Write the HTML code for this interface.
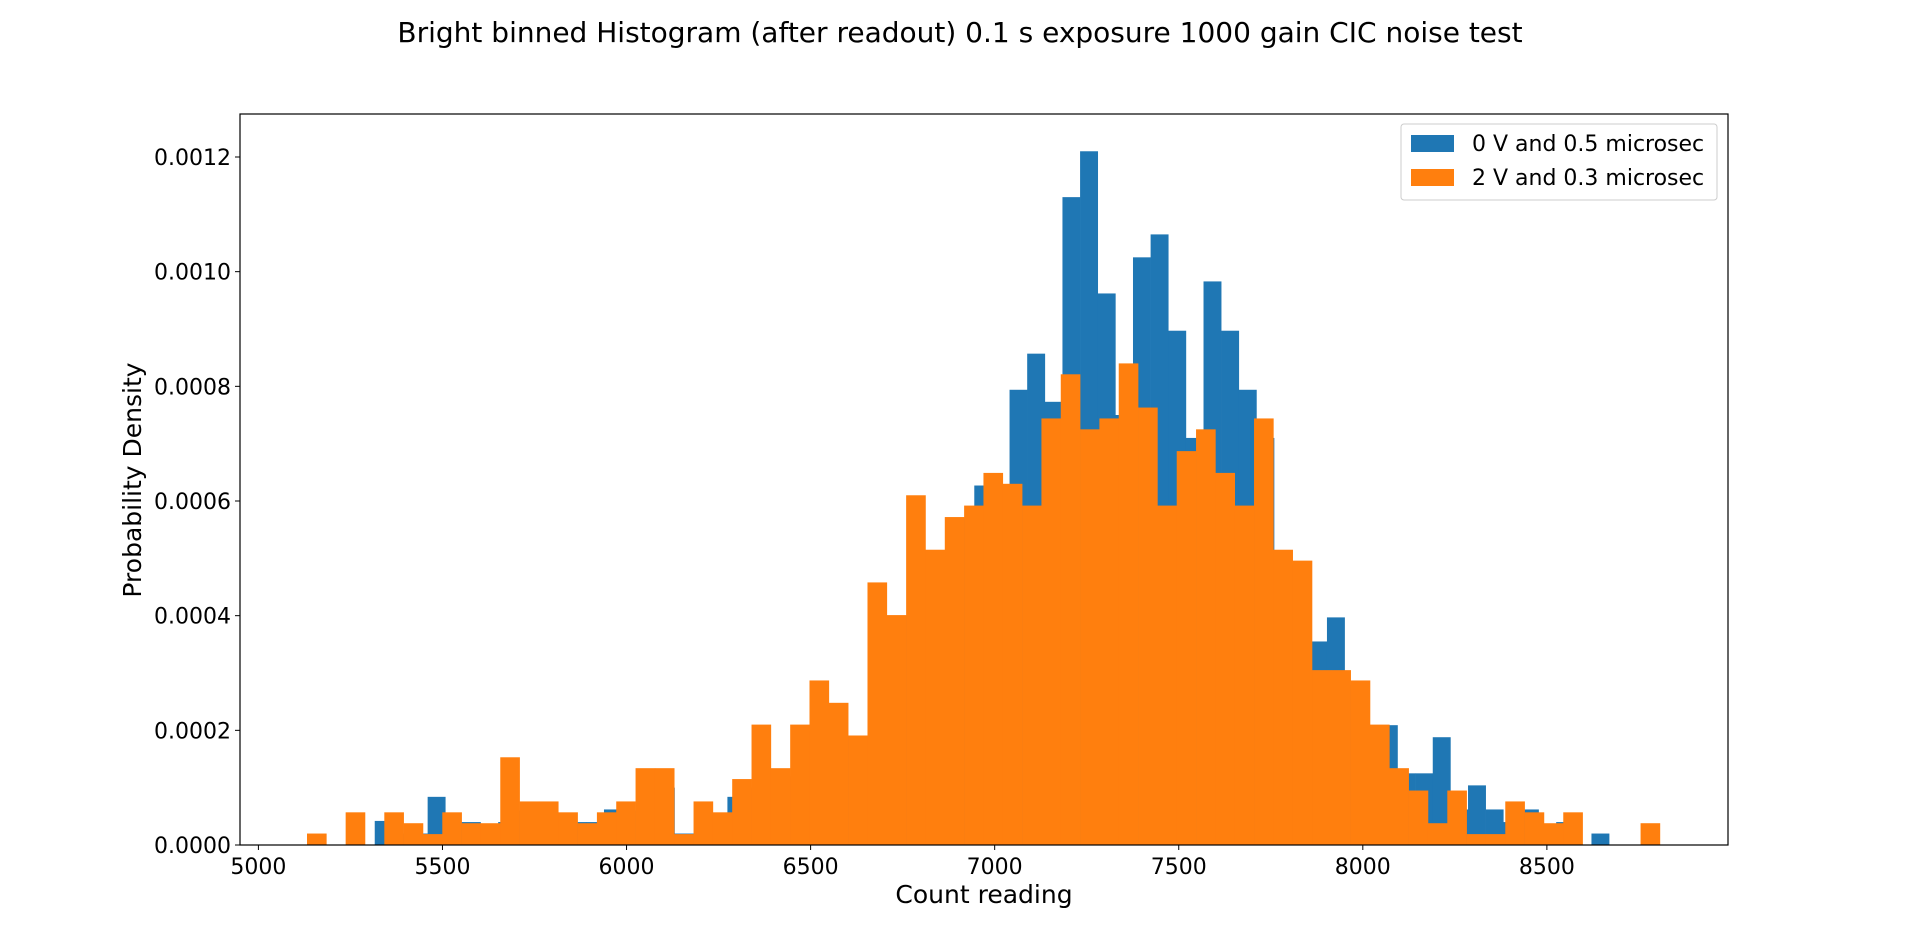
<!DOCTYPE html>
<html><head><meta charset="utf-8"><style>
html,body{margin:0;padding:0;background:#fff;}
svg{display:block;font-family:"DejaVu Sans","Liberation Sans",sans-serif;}
</style></head><body>
<svg id="chart" width="1920" height="949" xmlns="http://www.w3.org/2000/svg">
<text x="960" y="42" font-size="28" text-anchor="middle">Bright binned Histogram (after readout) 0.1 s exposure 1000 gain CIC noise test</text>
<g id="bars-blue"></g>
<g id="bars-orange"></g>
<rect x="240" y="114" width="1488" height="731" fill="none" stroke="#000" stroke-width="1.2"/>
<g id="xticks"></g>
<g id="yticks"></g>
<text x="984" y="903" font-size="25" text-anchor="middle">Count reading</text>
<text transform="translate(141,480) rotate(-90)" font-size="25" text-anchor="middle">Probability Density</text>
<g>
<rect x="1401" y="124" width="316" height="76" rx="3" fill="#fff" fill-opacity="0.8" stroke="#ccc"/>
<rect x="1411" y="135" width="43" height="17" fill="#1f77b4"/>
<text x="1472" y="151" font-size="22">0 V and 0.5 microsec</text>
<rect x="1411" y="169" width="43" height="17" fill="#ff7f0e"/>
<text x="1472" y="185" font-size="22">2 V and 0.3 microsec</text>
</g>
</svg>
<script>
const orangeStart = 5132;
const orangeWidth = 52.5;
const orangeValues = [0.2,0,0.57,0,0.57,0.38,0.19,0.57,0.38,0.38,1.53,0.76,0.76,0.57,0.38,0.57,0.76,1.34,1.34,0.19,0.76,0.57,1.15,2.1,1.34,2.1,2.87,2.48,1.91,4.58,4.01,6.1,5.15,5.72,5.92,6.49,6.3,5.92,7.44,8.21,7.25,7.44,8.4,7.63,5.92,6.87,7.25,6.49,5.92,7.44,5.15,4.96,3.05,3.05,2.87,2.1,1.34,0.95,0.38,0.95,0.19,0.19,0.76,0.57,0.38,0.57,0,0,0,0.38];
const blueStart = 5316;
const blueWidth = 47.9;
const blueValues = [0.42,0.2,0.2,0.84,0.4,0.4,0.2,0.4,0.6,0.6,0.4,0.4,0.4,0.62,0.6,1.0,1.0,0.2,0.2,0.4,0.84,1.0,1.3,1.2,2.0,2.4,1.9,1.8,3.8,3.8,4.0,5.0,5.1,5.7,6.27,6.2,7.94,8.57,7.73,11.3,12.1,9.62,7.5,10.25,10.65,8.97,7.1,9.83,8.97,7.94,7.1,5.1,4.9,3.55,3.97,2.8,2.0,2.09,1.25,1.25,1.88,0.62,1.04,0.62,0.4,0.62,0.2,0.4,0,0.2];
const valueScale = 1e-4;
const xTickValues = [5000,5500,6000,6500,7000,7500,8000,8500];
const yTickValues = [0,0.0002,0.0004,0.0006,0.0008,0.001,0.0012];
const yTickLabels = ["0.0000","0.0002","0.0004","0.0006","0.0008","0.0010","0.0012"];

const X0=240,X1=1728,Y0=845,Y1=114;
const xMin=4950,xMax=8992,yMin=0,yMax=0.001275;
function xs(v){return X0+(v-xMin)/(xMax-xMin)*(X1-X0);}
function ys(v){return Y0-(v-yMin)/(yMax-yMin)*(Y0-Y1);}
const NS="http://www.w3.org/2000/svg";
function drawBars(gid,start,width,vals,color,name){
  const g=document.getElementById(gid);
  vals.forEach((v,i)=>{
    if(v<=0)return;
    const r=document.createElementNS(NS,'rect');
    const xa=xs(start+i*width), xb=xs(start+(i+1)*width), yv=ys(v*valueScale);
    r.setAttribute('x',xa);r.setAttribute('width',xb-xa+0.3);
    r.setAttribute('y',yv);r.setAttribute('height',Y0-yv);
    r.setAttribute('fill',color);
    
    
    g.appendChild(r);
  });
}
drawBars('bars-blue',blueStart,blueWidth,blueValues,'#1f77b4','bar-0v');
drawBars('bars-orange',orangeStart,orangeWidth,orangeValues,'#ff7f0e','bar-2v');
const xg=document.getElementById('xticks');
xTickValues.forEach(v=>{
  const x=xs(v);
  const l=document.createElementNS(NS,'line');
  l.setAttribute('x1',x);l.setAttribute('x2',x);l.setAttribute('y1',Y0);l.setAttribute('y2',Y0+5);
  l.setAttribute('stroke','#000');
  
  
  xg.appendChild(l);
  const t=document.createElementNS(NS,'text');
  t.setAttribute('x',x);t.setAttribute('y',Y0+29);t.setAttribute('font-size','22');t.setAttribute('text-anchor','middle');
  t.textContent=v;
  
  
  xg.appendChild(t);
});
const yg=document.getElementById('yticks');
yTickValues.forEach((v,i)=>{
  const y=ys(v);
  const l=document.createElementNS(NS,'line');
  l.setAttribute('x1',X0-5);l.setAttribute('x2',X0);l.setAttribute('y1',y);l.setAttribute('y2',y);
  l.setAttribute('stroke','#000');
  
  
  yg.appendChild(l);
  const t=document.createElementNS(NS,'text');
  t.setAttribute('x',X0-9);t.setAttribute('y',y+8);t.setAttribute('font-size','22');t.setAttribute('text-anchor','end');
  t.textContent=yTickLabels[i];
  
  
  yg.appendChild(t);
});
</script>
</body></html>
